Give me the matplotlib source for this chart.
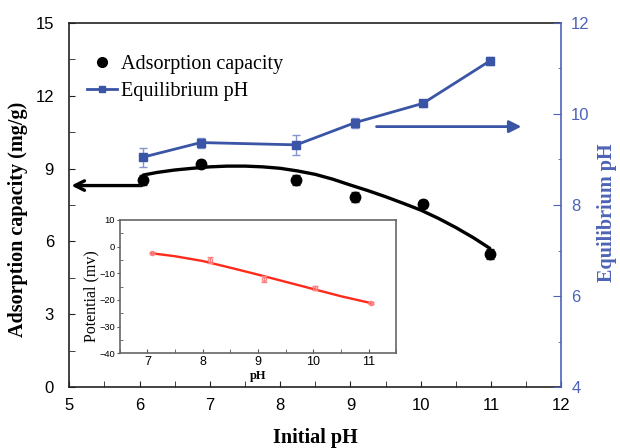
import numpy as np
import matplotlib
matplotlib.use('Agg')
import matplotlib.pyplot as plt
from matplotlib.lines import Line2D
from matplotlib.ticker import MultipleLocator

plt.rcParams['font.family'] = ['Liberation Sans', 'DejaVu Sans']
SERIF = ['Liberation Serif', 'DejaVu Serif']

# main data: adsorption capacity (left axis) and equilibrium pH (right axis)
init_ph = [6.05, 6.87, 8.23, 9.07, 10.03, 10.98]
capacity = [8.53, 9.19, 8.53, 7.84, 7.54, 5.48]
capacity_err = [0.2, 0.15, 0.2, 0.2, 0.18, 0.22]
eq_ph = [9.05, 9.37, 9.32, 9.81, 10.23, 11.16]
eq_ph_err = [0.21, 0.11, 0.22, 0.11, 0.08, 0.08]

# fitted trend line for capacity
fit_x = [6.05, 6.25, 6.5, 6.75, 7.0, 7.25, 7.5, 7.75, 8.0, 8.25, 8.5,
         8.75, 9.0, 9.25, 9.5, 9.75, 10.0, 10.25, 10.5, 10.75, 10.98]
fit_y = [8.73, 8.84, 8.94, 9.01, 9.07, 9.10, 9.10, 9.07, 9.01, 8.90, 8.76,
         8.56, 8.32, 8.09, 7.84, 7.57, 7.29, 6.95, 6.57, 6.15, 5.72]

# inset: zeta potential vs pH
pot_ph = [7.08, 8.13, 9.11, 10.03, 11.05]
potential = [-2.5, -5.0, -12.1, -15.6, -21.2]
potential_err = [0.4, 1.2, 1.0, 0.8, 0.5]
pot_fit_x = [7.08, 7.5, 8.0, 8.5, 9.0, 9.5, 10.0, 10.5, 11.05]
pot_fit_y = [-2.5, -3.6, -5.4, -7.9, -10.5, -13.2, -15.9, -18.6, -21.2]

BLUE = '#3a54a6'
AXBLUE = '#4d63b6'
LBLUE = '#8595d0'
DARK = '#222222'

fig = plt.figure(figsize=(6.2, 4.48), dpi=100)
ax = fig.add_axes([0.1116, 0.1355, 0.794, 0.8138])
ax2 = ax.twinx()

ax.plot(fit_x, fit_y, color='black', lw=2.4, zorder=3,
        solid_joinstyle='round', solid_capstyle='round')
ax.errorbar(init_ph, capacity, yerr=capacity_err, fmt='o', color='black',
            ms=7.5, ecolor='#333333', elinewidth=1, capsize=3, zorder=4)
ax.set_xlim(5, 12)
ax.set_ylim(0, 15)
ax.set_xticks(range(5, 13))
ax.set_yticks(range(0, 16, 3))
ax.xaxis.set_minor_locator(MultipleLocator(0.5))
ax.yaxis.set_minor_locator(MultipleLocator(1.5))
ax.tick_params(axis='both', which='both', direction='in', top=False, right=False,
               labelsize=12, color=DARK)
ax.tick_params(axis='x', which='both', length=4, pad=8)
ax.tick_params(axis='y', which='both', length=4.5, pad=11)
for s in ('left', 'bottom', 'top'):
    ax.spines[s].set_color(DARK)
    ax.spines[s].set_linewidth(1.2)
ax.spines['right'].set_visible(False)
ax.set_xlabel('Initial pH', family=SERIF, fontweight='bold', fontsize=14.5,
              va='center')
ax.set_ylabel('Adsorption capacity (mg/g)', family=SERIF, fontweight='bold',
              fontsize=14.5, va='center')
ax.xaxis.set_label_coords(0.501, -0.139)
ax.yaxis.set_label_coords(-0.104, 0.46)

ax2.errorbar(init_ph, eq_ph, yerr=eq_ph_err, fmt='-s', color=BLUE, lw=2,
             ms=6, ecolor=LBLUE, elinewidth=1, capsize=3, zorder=4)
ax2.set_ylim(4, 12)
ax2.set_yticks(range(4, 13, 2))
ax2.yaxis.set_minor_locator(MultipleLocator(1))
ax2.tick_params(axis='y', which='both', direction='in', colors=AXBLUE,
                labelsize=12, pad=7)
ax2.tick_params(axis='y', which='major', length=6)
ax2.tick_params(axis='y', which='minor', length=2.5)
for s in ('left', 'bottom', 'top'):
    ax2.spines[s].set_visible(False)
ax2.spines['right'].set_color(AXBLUE)
ax2.spines['right'].set_linewidth(1.2)
ax2.set_ylabel('Equilibrium pH', family=SERIF, fontweight='bold', fontsize=14.5,
               color=AXBLUE, rotation=90, va='center')
ax2.yaxis.set_label_coords(1.0924, 0.478)

# direction arrows
ax.annotate('', xy=(5.03, 8.3), xytext=(6.03, 8.3),
            arrowprops=dict(arrowstyle='->', color='black', lw=2.4,
                            mutation_scale=17, shrinkA=0, shrinkB=0))
ax2.annotate('', xy=(11.43, 9.72), xytext=(9.37, 9.72),
             arrowprops=dict(arrowstyle='-|>', color=BLUE, lw=2,
                             mutation_scale=18, shrinkA=0, shrinkB=0))

handles = [Line2D([], [], marker='o', color='black', ls='none', ms=7),
           Line2D([], [], marker='s', color=BLUE, lw=2, ms=5)]
ax2.legend(handles, ['Adsorption capacity', 'Equilibrium pH'],
           loc='upper left', bbox_to_anchor=(86.7 / 620, 1 - 54.5 / 448),
           bbox_transform=fig.transFigure, frameon=False, borderpad=0,
           borderaxespad=0, handlelength=1.5, handletextpad=0.2,
           labelspacing=0.4, prop={'family': SERIF, 'size': 14.5})

# inset
ins = fig.add_axes([0.1932, 0.2114, 0.4458, 0.2976])
ins.plot(pot_fit_x, pot_fit_y, color='#ff2a1a', lw=1.7, zorder=3,
         solid_joinstyle='round')
ins.errorbar(pot_ph, potential, yerr=potential_err, fmt='o', mfc='none',
             mec='#ff8080', ms=3, ecolor='#ff8080', elinewidth=0.8, capsize=2,
             zorder=4)
ins.set_xlim(6.5, 11.5)
ins.set_ylim(-40, 10)
ins.set_xticks(range(7, 12))
ins.set_yticks(range(-40, 11, 10))
ins.xaxis.set_minor_locator(MultipleLocator(0.5))
ins.yaxis.set_minor_locator(MultipleLocator(5))
ins.tick_params(axis='x', which='both', direction='in', length=3, labelsize=9,
                pad=2, color='#555555')
ins.tick_params(axis='y', which='major', direction='out', length=2,
                labelsize=6.7, pad=1.5, color='#555555')
ins.tick_params(axis='y', which='minor', direction='in', length=2,
                color='#555555')
for s in ins.spines.values():
    s.set_color('#666666')
    s.set_linewidth(1.2)
ins.set_xlabel('pH', family=SERIF, fontweight='bold', fontsize=9, va='center')
ins.set_ylabel('Potential (mv)', family=SERIF, fontsize=11.5, va='center')
ins.xaxis.set_label_coords(0.5, -0.168)
ins.yaxis.set_label_coords(-0.104, 0.426)

fig.savefig('out.png', dpi=100, facecolor='white')
